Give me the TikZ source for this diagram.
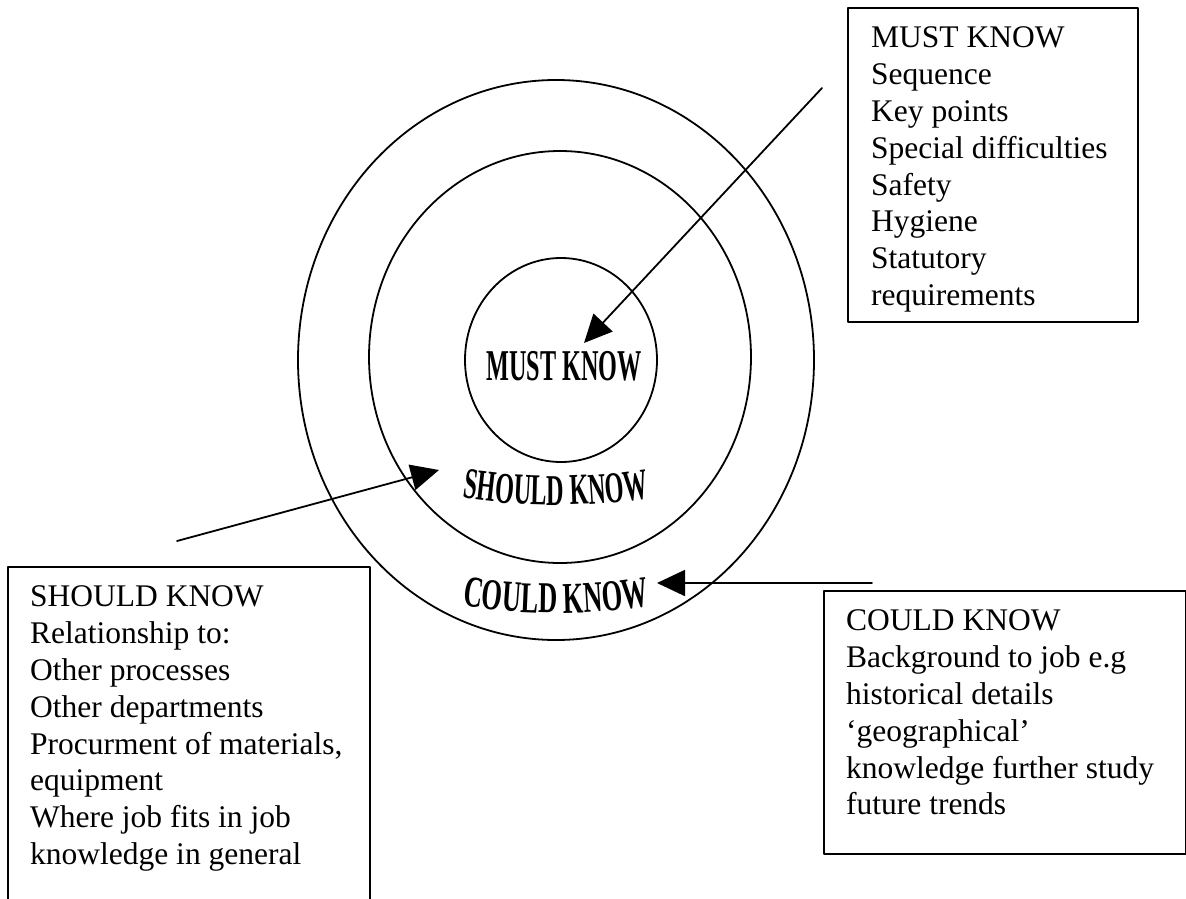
\documentclass[tikz,border=0pt]{standalone}
\usepackage{fontspec}
\setmainfont{Liberation Serif}
\newfontfamily\artfont{Liberation Serif}[FakeStretch=0.55]
\newfontfamily\artwidefont{Liberation Serif}[FakeStretch=0.6]
\usetikzlibrary{arrows.meta,decorations.text}

\newcommand\arttext{\artfont\bfseries\fontsize{44}{44}\selectfont}
\newcommand\artwide{\artwidefont\bfseries\fontsize{44}{44}\selectfont}
\newcommand\boxlines[3]{\parbox[t][#2][t]{#1}{\begin{tabular}[t]{@{}l@{}}#3\end{tabular}}}

\begin{document}
\begin{tikzpicture}[x=1pt,y=-1pt,line cap=round,line join=round,
  >={Triangle[length=28pt,width=26pt]},
  ring/.style={line width=1.8pt},
  pointer/.style={->,line width=1.8pt},
  infobox/.style={draw,line width=2.3pt,anchor=north west,inner xsep=22pt,inner ysep=14pt,
    font=\fontsize{31.5}{36.8}\selectfont}]
\path[use as bounding box,clip] (0,0) rectangle (1186,899);

\draw[ring] (561,360) ellipse [x radius=96, y radius=102];
\draw[ring] (560,357) ellipse [x radius=191, y radius=206];
\draw[ring] (556,360) ellipse [x radius=258, y radius=280];

\node[font=\arttext] (mustlabel) at (564,366) {MUST KNOW};
\path[decorate,decoration={text along path,text align=center,text={|\arttext|SHOULD KNOW}}]
  (448.3,495.6) arc [start angle=100, end angle=80, radius=620];
\path[decorate,decoration={text along path,text align=center,text={|\artwide|COULD KNOW}}]
  (448.3,603.6) arc [start angle=100, end angle=80, radius=620];

\node[infobox,inner xsep=23pt] (mustbox) at (847,7) {\boxlines{244pt}{286pt}{MUST KNOW\\
  Sequence\\ Key points\\ Special difficulties\\ Safety\\ Hygiene\\ Statutory\\ requirements}};
\node[infobox] (shouldbox) at (7,566) {\boxlines{318pt}{360pt}{SHOULD KNOW\\
  Relationship to:\\ Other processes\\ Other departments\\ Procurment of materials,\\
  equipment\\ Where job fits in job\\ knowledge in general}};
\node[infobox] (couldbox) at (823,590) {\boxlines{318pt}{235pt}{COULD KNOW\\
  Background to job e.g\\ historical details\\ `geographical'\\
  knowledge further study\\ future trends}};

\coordinate (mustfrom) at (822,88);
\coordinate (mustto) at (584,343);
\coordinate (shouldfrom) at (177,541);
\coordinate (shouldto) at (439,470);
\coordinate (couldfrom) at (872,583);
\coordinate (couldto) at (657,583);
\draw[pointer] (mustfrom) -- (mustto);
\draw[pointer] (shouldfrom) -- (shouldto);
\draw[pointer] (couldfrom) -- (couldto);
\end{tikzpicture}
\end{document}
